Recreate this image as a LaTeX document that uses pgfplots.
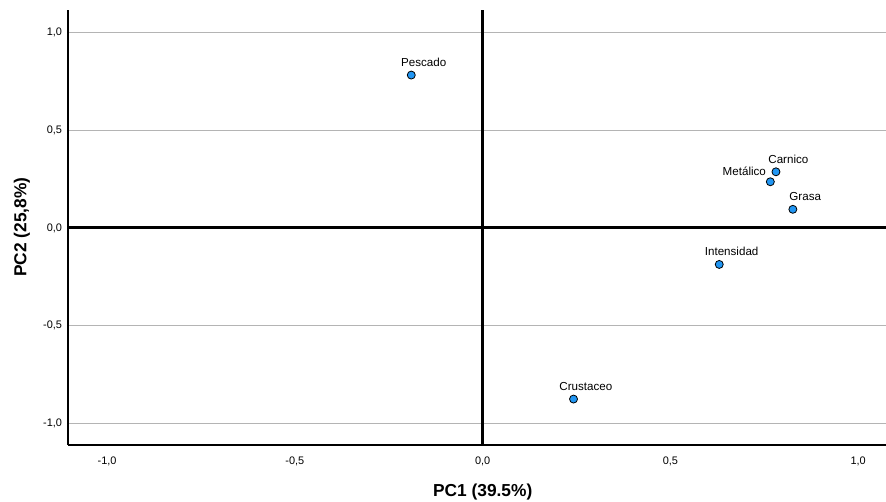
\documentclass[border=0pt]{standalone}
\usepackage{pgfplots}
\pgfplotsset{compat=1.18}
\usepackage{fontspec}
\setmainfont{Liberation Sans}
\definecolor{ptblue}{RGB}{33,150,243}
\definecolor{gridgray}{RGB}{180,180,180}
\begin{document}
\begin{tikzpicture}
\useasboundingbox (0pt,0pt) rectangle (664.5pt,376.5pt);
\begin{axis}[
  at={(51pt,42.75pt)}, anchor=south west,
  scale only axis, width=613.5pt, height=326.25pt,
  xmin=-1.104, xmax=1.074, ymin=-1.111, ymax=1.115,
  xtick={-1,-0.5,0,0.5,1}, ytick={-1,-0.5,0,0.5,1},
  /pgf/number format/assume math mode=true,
  /pgf/number format/.cd, use comma, fixed, fixed zerofill, precision=1, /pgfplots/.cd,
  tick label style={font=\fontsize{8.2}{9.6}\selectfont},
  major tick length=0pt,
  xticklabel style={yshift=-5pt},
  yticklabel style={xshift=-1pt},
  axis lines*=left, axis line style={-, black, line width=0.8pt},
  ymajorgrids, grid style={gridgray, line width=0.6pt},
  xlabel={PC1 (39.5\%)}, ylabel={PC2 (25,8\%)},
  every axis x label/.style={at={([yshift=-35.25pt]axis description cs:0.507,0)}, anchor=center, font=\fontsize{13}{15}\selectfont\bfseries},
  every axis y label/.style={at={([xshift=-34.5pt]axis description cs:0,0.501)}, anchor=center, rotate=90, font=\fontsize{13}{15}\selectfont\bfseries},
  clip=false,
  nodes near coords,
  point meta=explicit symbolic,
  every node near coord/.style={font=\fontsize{8.7}{10}\selectfont, anchor=center, inner sep=0pt, xshift=9.3pt, yshift=9.5pt},
]
\draw[black, line width=2.3pt] (axis cs:0,-1.111) -- (axis cs:0,1.115);
\draw[black, line width=2.3pt] (axis cs:-1.104,0) -- (axis cs:1.074,0);
\addplot[only marks, mark=*, mark size=3pt, mark options={fill=ptblue, draw=black, line width=0.6pt}]
  coordinates {(-0.190,0.782)[Pescado] (0.781,0.287)[Carnico] (0.826,0.095)[Grasa] (0.630,-0.187)[Intensidad] (0.242,-0.876)[Crustaceo]};
\addplot[only marks, mark=*, mark size=3pt, mark options={fill=ptblue, draw=black, line width=0.6pt},
  every node near coord/.style={font=\fontsize{8.7}{10}\selectfont, anchor=east, inner sep=0pt, xshift=-3pt, yshift=7.5pt}]
  coordinates {(0.766,0.236)[Metálico]};
\end{axis}
\end{tikzpicture}
\end{document}
